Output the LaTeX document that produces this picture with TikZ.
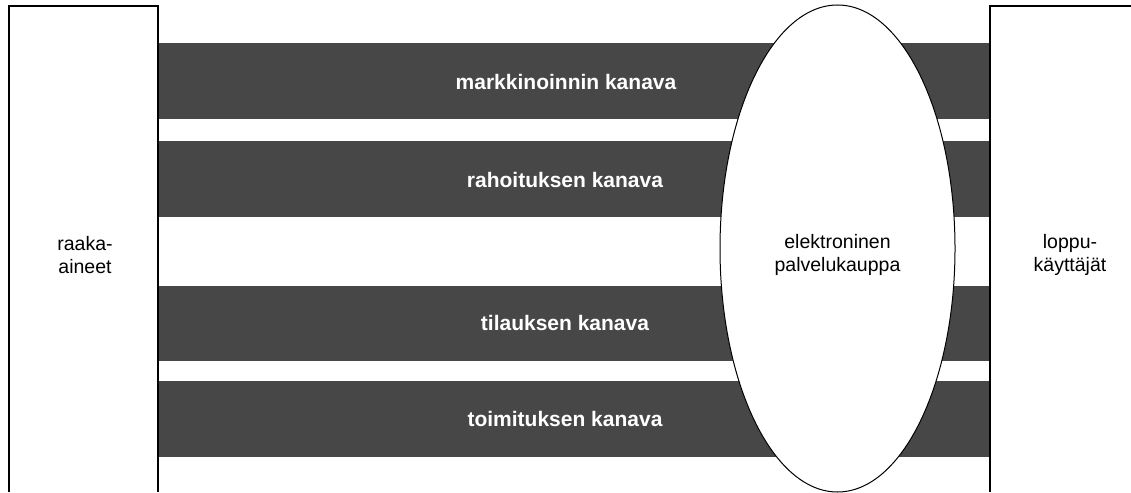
\documentclass[tikz,border=0pt]{standalone}
\usepackage{fontspec}
\setmainfont{Liberation Sans}
\usetikzlibrary{shapes.geometric}
\begin{document}
\begin{tikzpicture}[x=1pt,y=-1pt,
  band/.style={fill=black!72},
  frame/.style={draw=black,line width=1.2pt},
  bandlabel/.style={text=white,font=\fontsize{21}{24}\selectfont\bfseries,inner sep=0pt},
  sidelabel/.style={font=\fontsize{19.5}{23}\selectfont,align=center,inner sep=0pt},
  shop/.style={ellipse,draw=black,line width=1pt,fill=white,minimum width=235pt,minimum height=487pt,inner sep=0pt}]
\useasboundingbox (0,0) rectangle (1131,492);
% bands
\fill[band] (158,43) rectangle (990,119);
\fill[band] (158,141) rectangle (990,217);
\fill[band] (158,286) rectangle (990,361);
\fill[band] (158,381) rectangle (990,457);
% boxes
\draw[frame] (9,492) -- (9,6) -- (158,6) -- (158,492);
\draw[frame] (1131,6) -- (990,6) -- (990,492);
% ellipse
\node[shop] (shop) at (837.5,248.5) {};
% labels
\node[bandlabel] (l1) at (566,82) {markkinoinnin kanava};
\node[bandlabel] (l2) at (565,180) {rahoituksen kanava};
\node[bandlabel] (l3) at (565,323) {tilauksen kanava};
\node[bandlabel] (l4) at (565,419) {toimituksen kanava};
\node[sidelabel] (raaka) at (85,255) {raaka-\\aineet};
\node[sidelabel] (loppu) at (1070,255) {loppu-\\käyttäjät};
\node[sidelabel,yshift=-6pt] (shoptext) at (shop.center) {elektroninen\\palvelukauppa};
\end{tikzpicture}
\end{document}
